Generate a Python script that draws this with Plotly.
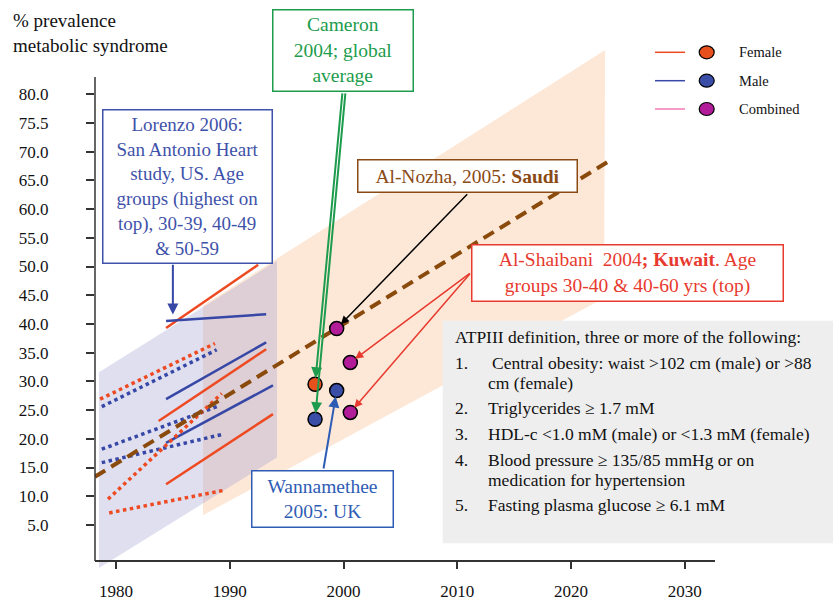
import plotly.graph_objects as go

SERIF = "Liberation Serif"

# ---------------- data ----------------
x_tickvals = [1980, 1990, 2000, 2010, 2020, 2030]
y_tickvals = [5, 10, 15, 20, 25, 30, 35, 40, 45, 50, 55, 60, 65, 70, 75, 80]
y_ticktext = ["5.0", "10.0", "15.0", "20.0", "25.0", "30.0", "35.0", "40.0",
              "45.0", "50.0", "55.0", "60.0", "65.0", "70.0", "75.5", "80.0"]

# Lorenzo 2006 (San Antonio Heart Study) – solid segments
lor_f_top_x = [1984.4, 1992.5];  lor_f_top_y = [39.3, 50.3]
lor_m_top_x = [1984.4, 1993.2];  lor_m_top_y = [40.5, 41.7]
lor_m_mid_x = [1984.4, 1993.2];  lor_m_mid_y = [26.9, 36.8]
lor_f_mid_x = [1983.75, 1993.2]; lor_f_mid_y = [23.1, 35.6]
lor_m_low_x = [1984.4, 1993.8];  lor_m_low_y = [19.3, 29.3]
lor_f_low_x = [1984.4, 1993.8];  lor_f_low_y = [12.1, 24.3]

# dotted segments
dot_f_top_x = [1978.6, 1988.7];   dot_f_top_y = [26.9, 36.6]
dot_m_top_x = [1978.75, 1988.85]; dot_m_top_y = [25.6, 35.5]
dot_m_mid_x = [1978.75, 1989.0];  dot_m_mid_y = [18.2, 25.7]
dot_m_low_x = [1978.75, 1989.4];  dot_m_low_y = [15.85, 20.8]
dot_f_stp_x = [1979.3, 1989.3];   dot_f_stp_y = [9.5, 27.9]
dot_f_flt_x = [1979.4, 1989.4];   dot_f_flt_y = [7.1, 11.0]

# trend (brown dashed)
trend_x = [1978.15, 2023.3]
trend_y = [13.4, 68.3]

# survey points
female_x = [1997.5];                 female_y = [29.5]            # Cameron
male_x = [1997.5, 1999.4];           male_y = [23.4, 28.4]         # Cameron, Wannamethee
combined_x = [1999.4, 2000.6, 2000.6]; combined_y = [39.2, 33.3, 24.6]  # Al-Nozha, Al-Shaibani x2

# shaded regions
lav_x = [1978.5, 1978.5, 1994.15, 1994.15]
lav_y = [-2.5, 31.6, 51.0, 16.75]
peach_x = [1987.65, 1987.65, 2023.0, 2022.9]
peach_y = [6.7, 43.2, 87.7, 44.5]

# ---------------- styling ----------------
RED = "#ee4a22"
BLUE = "#3647a6"
BROWN = "#8a4a0c"
F_FILL = "#e8501e"
M_FILL = "#3a4ea8"
C_FILL = "#b31c98"

XR = [1978.154, 2032.66]
YR = [-2.84, 88.57]
L, R, T, B = 95, 715, 45, 570
W, H = 833, 601


def ppx(x):
    return (x - L) / (R - L)


def ppy(y):
    return (B - y) / (B - T)


def dx(p):
    return 1980 + (p - 116) / 11.375


def dy(p):
    return (553.7 - p) / 5.743


def ypap(v):
    return (v - YR[0]) / (YR[1] - YR[0])


fig = go.Figure()


def seg(x, y, color, dash=None, width=2.5):
    fig.add_trace(go.Scatter(x=x, y=y, mode="lines", showlegend=False, hoverinfo="skip",
                             line=dict(color=color, width=width, dash=dash)))


seg(lor_f_top_x, lor_f_top_y, RED)
seg(lor_m_top_x, lor_m_top_y, BLUE)
seg(lor_m_mid_x, lor_m_mid_y, BLUE)
seg(lor_f_mid_x, lor_f_mid_y, RED)
seg(lor_m_low_x, lor_m_low_y, BLUE)
seg(lor_f_low_x, lor_f_low_y, RED)

seg(dot_f_top_x, dot_f_top_y, RED, "dot", 3.5)
seg(dot_m_top_x, dot_m_top_y, BLUE, "dot", 3.5)
seg(dot_m_mid_x, dot_m_mid_y, BLUE, "dot", 3.5)
seg(dot_m_low_x, dot_m_low_y, BLUE, "dot", 3.5)
seg(dot_f_stp_x, dot_f_stp_y, RED, "dot", 3.5)
seg(dot_f_flt_x, dot_f_flt_y, RED, "dot", 3.5)

seg(trend_x, trend_y, BROWN, "12px,7px", 4)


def pts(x, y, fill):
    fig.add_trace(go.Scatter(x=x, y=y, mode="markers", showlegend=False, hoverinfo="skip",
                             marker=dict(size=14, color=fill, line=dict(color="black", width=1.5))))


pts(female_x, female_y, F_FILL)
pts(male_x, male_y, M_FILL)
pts(combined_x, combined_y, C_FILL)


def poly(xs, ys):
    d = "M " + " L ".join(f"{a},{b}" for a, b in zip(xs, ys)) + " Z"
    return d


shapes = [
    dict(type="path", path=poly(peach_x, peach_y), xref="x", yref="y",
         fillcolor="#fde8d8", line=dict(width=0), layer="below"),
    dict(type="path", path=poly(lav_x, lav_y), xref="x", yref="y",
         fillcolor="rgba(150,150,205,0.3)", line=dict(width=0), layer="below"),
    # ATPIII box
    dict(type="rect", xref="paper", yref="paper", x0=ppx(442.7), x1=ppx(833), y0=ppy(543.3), y1=ppy(320.7),
         fillcolor="#eeeeee", line=dict(width=0), layer="above"),
    # y axis line
    dict(type="line", xref="paper", yref="paper", x0=0, x1=0, y0=ypap(-1.27), y1=ypap(83),
         line=dict(color="#333333", width=1.5), layer="above"),
]

# legend
leg_rows = [("Female", RED, F_FILL, 52.3), ("Male", BLUE, M_FILL, 80.7), ("Combined", "#f07ab4", C_FILL, 109)]
annotations = []
for name, lc, fc, yy in leg_rows:
    shapes.append(dict(type="line", xref="paper", yref="paper", x0=ppx(655), x1=ppx(685),
                       y0=ppy(yy), y1=ppy(yy), line=dict(color=lc, width=1.5), layer="above"))
    shapes.append(dict(type="circle", xref="paper", yref="paper", xsizemode="pixel", ysizemode="pixel",
                       xanchor=ppx(706.7), yanchor=ppy(yy), x0=-7.5, x1=7.5, y0=-6.5, y1=6.5,
                       fillcolor=fc, line=dict(color="black", width=1.2), layer="above"))
    annotations.append(dict(xref="paper", yref="paper", x=ppx(736.7), y=ppy(yy), xanchor="left",
                            yanchor="middle", text=name, showarrow=False,
                            font=dict(family=SERIF, size=14.5, color="#111111")))

# title
annotations.append(dict(xref="paper", yref="paper", x=ppx(11), y=ppy(32.5), xanchor="left", yanchor="middle",
                        align="left", text="% prevalence<br>metabolic syndrome", showarrow=False,
                        font=dict(family=SERIF, size=19, color="#111111")))


def box(x0, y0, x1, y1, text, color, size=19.5):
    annotations.append(dict(xref="paper", yref="paper", x=ppx(x0), y=ppy(y0), xanchor="left", yanchor="top",
                            text=text, showarrow=False, align="center",
                            font=dict(family=SERIF, size=size, color=color),
                            bordercolor=color, borderwidth=1.5, borderpad=0, bgcolor="white",
                            width=x1 - x0 - 3, height=y1 - y0 - 3))


def arrow(tx, ty, sx, sy, color, width=1.5, standoff=7):
    annotations.append(dict(x=tx, y=ty, xref="x", yref="y", ax=sx, ay=sy, axref="x", ayref="y",
                            text="", showarrow=True, arrowhead=2, arrowsize=1.1, arrowwidth=width,
                            arrowcolor=color, standoff=standoff))


# arrows (drawn before boxes so boxes cover tails)
lor_tip_x = 1985.0
lor_tip_y = lor_m_top_y[0] + (lor_tip_x - lor_m_top_x[0]) * (lor_m_top_y[1] - lor_m_top_y[0]) / (lor_m_top_x[1] - lor_m_top_x[0])
arrow(lor_tip_x, lor_tip_y, lor_tip_x, dy(263.3), BLUE, 2, 6)
arrow(female_x[0], female_y[0], dx(342.5), dy(92), "#1c9c4c", 2, 6)
arrow(male_x[0], male_y[0], dx(345.5), dy(92), "#1c9c4c", 2, 6)
arrow(combined_x[0], combined_y[0], dx(468.7), dy(192.7), "black", 1.5, 6)
arrow(combined_x[1], combined_y[1], dx(471.3), dy(272.3), "#e83a2e", 1.5, 6)
arrow(combined_x[2], combined_y[2], dx(471.3), dy(272.3), "#e83a2e", 1.5, 6)
arrow(male_x[1], male_y[1], dx(323.3), dy(470), "#2e5cb4", 2, 6)

box(272.3, 9.3, 414.3, 92, "Cameron<br>2004; global<br>average", "#1c9c4c")
box(101.7, 108.7, 272.7, 263.3,
    "Lorenzo 2006:<br>San Antonio Heart<br>study, US. Age<br>groups (highest on<br>top), 30-39, 40-49<br>&amp; 50-59",
    "#3f52aa", 19)
box(357.3, 158.7, 578.3, 192.7, "Al-Nozha, 2005: <b>Saudi</b>", "#8a4a14")
box(471.3, 244, 784.3, 301.7,
    "Al-Shaibani\u00a0 2004<b>; Kuwait</b>. Age<br>groups 30-40 &amp; 40-60 yrs (top)", "#e83a2e")
box(251, 470, 394, 528.3, "Wannamethee<br>2005: UK", "#2e5cb4")

# ATPIII text
atp_lines = [
    (452.7, 337.3, "ATPIII definition, three or more of the following:"),
    (452.7, 362.7, "1."), (490, 362.7, "Central obesity: waist &gt;102 cm (male) or &gt;88"),
    (486, 383.3, "cm (female)"),
    (452.7, 408.3, "2."), (486, 408.3, "Triglycerides \u2265 1.7 mM"),
    (452.7, 434, "3."), (486, 434, "HDL-c &lt;1.0 mM (male) or &lt;1.3 mM (female)"),
    (452.7, 460, "4."), (486, 460, "Blood pressure \u2265 135/85 mmHg or on"),
    (486, 480, "medication for hypertension"),
    (452.7, 505, "5."), (486, 505, "Fasting plasma glucose \u2265 6.1 mM"),
]
for xx, yy, t in atp_lines:
    annotations.append(dict(xref="paper", yref="paper", x=ppx(xx), y=ppy(yy), xanchor="left", yanchor="middle",
                            text=t, showarrow=False, font=dict(family=SERIF, size=17.5, color="#111111")))

fig.update_layout(
    width=W, height=H,
    margin=dict(l=L, r=W - R, t=T, b=H - B, pad=0, autoexpand=False),
    paper_bgcolor="white", plot_bgcolor="rgba(0,0,0,0)",
    font=dict(family=SERIF),
    shapes=shapes, annotations=annotations, showlegend=False,
    xaxis=dict(range=XR, tickvals=x_tickvals, ticks="outside", ticklen=7, tickwidth=1.5, tickcolor="#333333",
               showline=True, linecolor="#333333", linewidth=1.5, showgrid=False, zeroline=False,
               anchor="free", position=(B - 561) / (B - T), ticklabelstandoff=8, automargin=False,
               tickfont=dict(family=SERIF, size=17, color="#111111")),
    yaxis=dict(range=YR, tickvals=y_tickvals, ticktext=y_ticktext, ticks="outside", ticklen=8, tickwidth=1.5,
               tickcolor="#333333", showline=False, showgrid=False, zeroline=False, ticklabelstandoff=34,
               automargin=False, tickfont=dict(family=SERIF, size=17, color="#111111")),
)

fig.write_html("out.html", config={"displayModeBar": False},
               post_script="document.body.style.margin='0';document.body.style.overflow='hidden';")
